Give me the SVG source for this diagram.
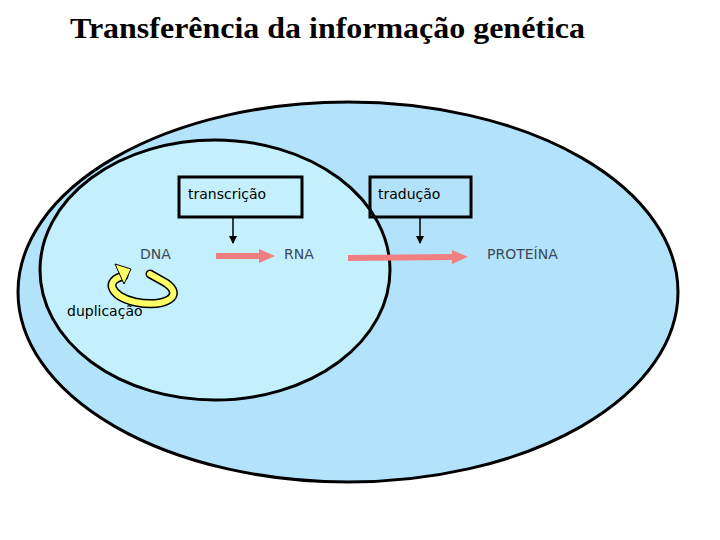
<svg xmlns="http://www.w3.org/2000/svg" width="720" height="540" viewBox="0 0 720 540">
<style>
.t{font-family:"DejaVu Sans",sans-serif;font-size:14px;fill:#000}
.g{font-family:"DejaVu Sans",sans-serif;font-size:14px;fill:#3a4a55}
.box{fill:none;stroke:#000;stroke-width:3}
.pk{stroke:#f08080;stroke-width:6;fill:none}
</style>
<defs>
<marker id="ah" markerWidth="8" markerHeight="8" refX="7" refY="4" orient="auto" markerUnits="userSpaceOnUse"><path d="M0,0L8,4L0,8z" fill="#000"/></marker>
<marker id="pa" markerWidth="16" markerHeight="14" refX="2" refY="7" orient="auto" markerUnits="userSpaceOnUse"><path d="M0,0L16,7L0,14z" fill="#f08080"/></marker>
</defs>
<rect width="720" height="540" fill="#fff"/>
<text x="70" y="38" font-family="Liberation Serif,serif" font-size="29" font-weight="bold" fill="#000" textLength="515" lengthAdjust="spacingAndGlyphs">Transferência da informação genética</text>
<g id="cell"><ellipse cx="348" cy="292" rx="330" ry="190" fill="#b3e3fb" stroke="#000" stroke-width="3"/></g>
<g id="nucleus"><ellipse cx="215" cy="270" rx="175" ry="130" fill="#c4f0fd" stroke="#000" stroke-width="3"/></g>
<g id="transcricao"><rect class="box" x="179" y="177" width="123" height="40"/><text class="t" x="188" y="199">transcrição</text></g>
<g id="traducao"><rect class="box" x="370" y="177" width="101" height="40"/><text class="t" x="378" y="199">tradução</text></g>
<g id="dna"><text class="g" x="140" y="259">DNA</text></g>
<g id="rna"><text class="g" x="284" y="259">RNA</text></g>
<g id="proteina"><text class="g" x="487" y="259">PROTEÍNA</text></g>
<g id="duplicacao"><text class="t" x="67" y="316">duplicação</text></g>
<g id="connectors">
<line x1="233" y1="217" x2="233" y2="243" stroke="#000" stroke-width="1.5" marker-end="url(#ah)"/>
<line x1="420" y1="217" x2="420" y2="243" stroke="#000" stroke-width="1.5" marker-end="url(#ah)"/>
<line class="pk" x1="216" y1="256" x2="261" y2="256" marker-end="url(#pa)"/>
<line class="pk" x1="348" y1="258" x2="454" y2="257" marker-end="url(#pa)"/>
<path d="M124,276 C104,280 110,296 135,302 C165,308 185,296 166,283 L150,274" fill="none" stroke="#000" stroke-width="9" stroke-linecap="round"/>
<path d="M124,276 C104,280 110,296 135,302 C165,308 185,296 166,283 L150,274" fill="none" stroke="#ffff66" stroke-width="6" stroke-linecap="round"/>
<path d="M115,264 L131,269 L124,284 Z" fill="#ffff66" stroke="#000" stroke-width="1"/>
</g>
</svg>
